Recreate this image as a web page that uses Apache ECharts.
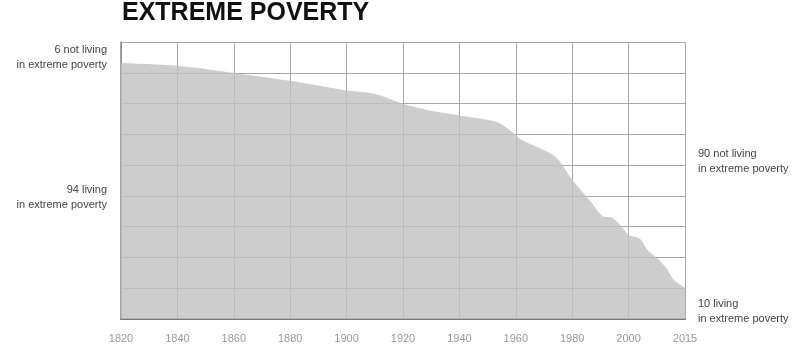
<!DOCTYPE html>
<html><head><meta charset="utf-8">
<script src="https://cdn.jsdelivr.net/npm/echarts@6/dist/echarts.min.js"></script>
<style>html,body{margin:0;padding:0;background:#fff}#c{width:800px;height:361px}</style>
</head><body><div id="c"></div>
<script>
// Share of world population living in extreme poverty (%)
const years = [1820,1840,1860,1881,1900,1910,1920,1930,1940,1953,1959,1962,1974,1980,1986,1991,1994,1997,2000,2003,2005,2008,2010,2012,2015];
const povertyShare = [92.4,91.4,88.8,85.8,82.5,81.3,77.7,75.2,73.5,71.2,67.3,64.7,58.6,50.3,43.1,37.0,36.6,34.0,30.4,29.0,25.0,21.4,18.5,14.2,11.3];
const tickYears = [1820,1840,1860,1880,1900,1920,1940,1960,1980,2000,2015];

// The last axis step (2000-2015) is drawn with the same width as a 20-year step
function axisPos(y){ return y <= 2000 ? y : 2000 + (y - 2000) * 20 / 15; }
function tickLabel(v){ const i = Math.round((v - 1820) / 20); return tickYears[i] !== undefined ? String(tickYears[i]) : ''; }

const chart = echarts.init(document.getElementById('c'));
const lbl = {fontFamily:'Liberation Sans, Arial, sans-serif', fontSize:11, fill:'#444'};
chart.setOption({
  animation:false,
  grid:{left:121, right:115, top:42, bottom:42},
  xAxis:{type:'value', min:1820, max:2020, interval:20,
    axisLine:{show:true, lineStyle:{color:'#777', width:2}},
    axisTick:{show:false},
    axisLabel:{formatter:tickLabel, color:'#999', fontSize:11, margin:14, fontFamily:'Liberation Sans, Arial, sans-serif'},
    splitLine:{show:true, lineStyle:{color:'#a8a8a8', width:1}}},
  yAxis:{type:'value', min:0, max:100, interval:100/9,
    axisLine:{show:true, lineStyle:{color:'#888', width:1.5}},
    axisTick:{show:false}, axisLabel:{show:false},
    splitLine:{show:true, lineStyle:{color:'#a8a8a8', width:1}}},
  series:[{type:'line', smooth:0.3, symbol:'none',
    data: years.map((y,i)=>[axisPos(y), povertyShare[i]]),
    lineStyle:{width:0},
    areaStyle:{color:'#c0c0c0', opacity:0.8}, z:3}],
  graphic:[
    {type:'text', left:122, top:1, style:{text:'EXTREME POVERTY', fontFamily:'Liberation Sans, Arial, sans-serif', fontWeight:'bold', fontSize:25, fill:'#111'}},
    {type:'text', right:693, top:42, style:Object.assign({text:'6 not living\nin extreme poverty', textAlign:'right', lineHeight:15}, lbl)},
    {type:'text', right:693, top:182, style:Object.assign({text:'94 living\nin extreme poverty', textAlign:'right', lineHeight:15}, lbl)},
    {type:'text', left:698, top:146, style:Object.assign({text:'90 not living\nin extreme poverty', lineHeight:15}, lbl)},
    {type:'text', left:698, top:296, style:Object.assign({text:'10 living\nin extreme poverty', lineHeight:15}, lbl)}
  ]
});
</script></body></html>
